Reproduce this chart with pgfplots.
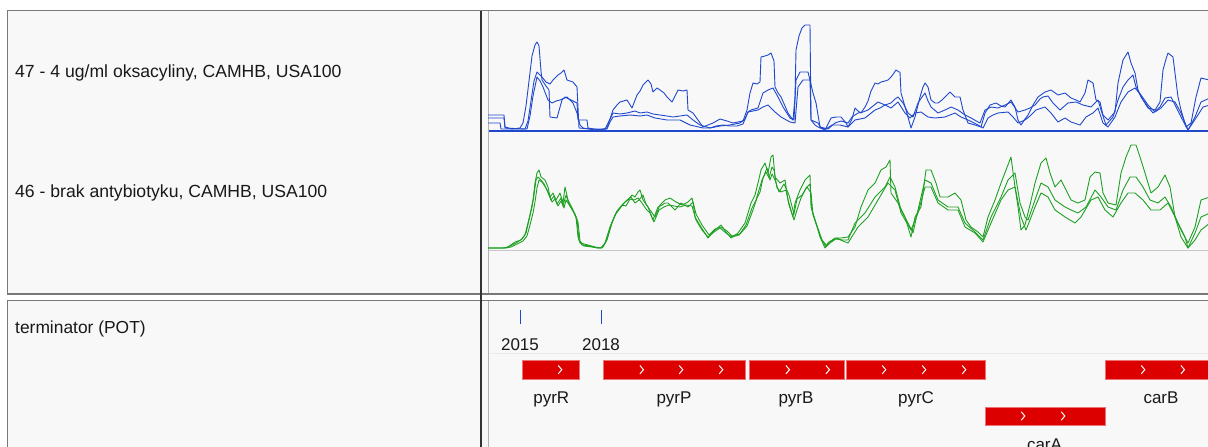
\documentclass[border=0pt]{standalone}
\usepackage{fontspec}
\setmainfont{Liberation Sans}
\usepackage{pgfplots}
\usepackage{pgfplotstable}
\pgfplotsset{compat=1.18}

\definecolor{igvblue}{RGB}{32,72,205}
\definecolor{igvgreen}{RGB}{30,160,35}
\definecolor{genered}{RGB}{221,0,0}
\definecolor{panelbg}{RGB}{248,248,248}
\definecolor{framegray}{RGB}{120,120,120}
\definecolor{txt}{RGB}{25,25,25}

% small white arrow drawn inside gene boxes
\pgfdeclareplotmark{chev}{%
  \pgfpathmoveto{\pgfqpoint{-1.8pt}{4.2pt}}%
  \pgfpathlineto{\pgfqpoint{1.8pt}{0pt}}%
  \pgfpathlineto{\pgfqpoint{-1.8pt}{-4.2pt}}%
  \pgfusepathqstroke}

% coverage, oxacillin replicates (x = screen position, h = height)
\pgfplotstableread{
x h
488 16
504 16
505 4
512 2
520 3
523 8
526 25
529 50
532 75
535 86
537 89
539 85
541 60
542 51
546 45
549 41
550 14
557 13
562 31
565 34
571 31
577 28
578 11
587 11
588 3
600 1
607 3
610 12
613 21
617 26
620 29
627 31
632 23
637 36
640 40
643 46
648 51
651 47
653 39
657 43
660 41
664 38
667 34
672 29
675 35
678 41
683 40
687 41
688 21
693 18
698 11
703 4
708 6
713 8
720 12
727 10
733 8
738 9
743 10
747 21
750 38
753 48
757 47
760 49
761 74
765 75
768 76
771 78
774 70
775 44
778 38
781 34
785 25
788 18
793 11
795 34
796 81
799 95
802 103
805 106
810 106
811 11
815 6
818 4
825 1
831 13
836 14
841 14
846 8
848 4
852 12
855 23
858 20
861 18
865 24
868 30
871 40
875 48
878 47
881 49
885 50
888 51
891 54
894 58
896 61
899 59
900 59
901 38
906 21
911 3
915 14
920 34
923 44
925 48
928 44
931 31
935 28
938 28
942 31
945 34
950 39
955 34
960 34
963 21
968 8
975 6
981 4
985 18
990 26
996 28
1001 25
1005 24
1011 31
1015 24
1018 11
1021 6
1025 12
1028 16
1033 26
1038 34
1045 39
1051 41
1058 36
1065 38
1071 33
1076 31
1080 29
1085 38
1088 51
1093 48
1096 31
1100 29
1103 16
1108 11
1115 19
1118 48
1121 62
1123 71
1128 79
1131 68
1135 58
1138 41
1143 31
1148 23
1155 21
1160 29
1163 61
1166 72
1168 78
1173 74
1175 58
1178 34
1181 21
1186 4
1191 8
1196 34
1201 53
1205 52
1210 51
}\blueA

\pgfplotstableread{
x h
488 13
504 13
505 3
525 2
528 10
531 30
534 50
537 59
542 54
546 49
550 47
553 51
558 56
561 58
564 61
567 51
570 50
573 49
577 44
579 3
590 2
605 2
608 8
613 18
620 17
627 18
635 20
640 18
647 19
653 17
660 16
667 15
673 14
680 15
687 16
693 11
700 6
710 3
720 5
730 6
740 8
745 12
748 19
751 21
758 23
763 38
768 41
773 43
778 34
783 24
790 13
794 11
796 51
800 59
808 59
810 51
813 38
816 28
820 4
828 2
835 8
841 10
848 8
852 14
858 18
863 19
868 21
873 25
878 29
885 26
891 28
895 32
898 34
903 28
908 18
913 14
918 28
922 34
925 38
928 30
931 24
938 18
945 21
951 24
958 21
965 16
971 13
980 8
985 21
991 24
998 23
1005 26
1011 29
1018 19
1025 21
1030 23
1035 26
1040 32
1043 34
1048 35
1053 28
1060 21
1068 28
1076 29
1083 26
1091 24
1098 31
1101 21
1106 6
1113 14
1118 31
1123 44
1128 51
1133 56
1136 44
1141 34
1148 24
1153 18
1160 24
1165 33
1171 34
1176 24
1181 14
1188 1
1195 14
1201 29
1210 33
}\blueB

\pgfplotstableread{
x h
488 8
500 8
501 2
527 2
530 15
533 35
537 54
540 50
543 44
548 31
552 28
556 30
560 31
567 34
573 28
577 18
580 6
583 3
595 1
607 2
610 9
613 14
620 15
630 16
640 15
647 16
655 13
667 11
680 11
690 6
703 3
710 3
716 5
723 6
730 5
737 5
743 7
748 19
758 21
763 24
768 26
775 19
781 14
790 9
795 8
798 44
803 51
810 51
811 11
818 8
821 3
826 2
832 6
840 6
848 4
855 11
865 13
870 17
875 21
880 23
885 26
891 23
898 29
905 18
910 13
915 18
921 19
928 14
935 13
945 14
955 18
961 14
968 11
978 6
983 3
988 13
993 16
998 18
1008 19
1013 14
1018 8
1025 11
1030 15
1036 21
1045 24
1051 18
1058 9
1065 13
1071 9
1080 6
1086 14
1093 18
1098 23
1103 8
1108 4
1115 14
1121 29
1128 39
1135 43
1141 36
1148 26
1155 19
1161 23
1168 31
1175 29
1181 18
1188 1
1196 13
1203 24
1210 26
}\blueC

% coverage, no antibiotic replicates
\pgfplotstableread{
x h
488 2
503 2
508 3
515 8
521 10
525 15
528 27
531 40
533 50
535 67
537 77
539 80
541 73
545 70
548 63
550 53
553 57
556 50
560 57
563 47
565 63
568 50
573 40
576 33
578 13
580 7
588 5
595 3
601 2
605 7
610 23
615 35
621 43
625 48
628 50
632 55
635 53
638 58
640 60
643 50
648 43
653 30
658 43
662 45
665 47
668 47
675 40
681 47
688 43
693 48
695 33
701 23
708 12
715 20
721 25
726 18
731 12
738 17
745 27
751 47
755 55
758 67
761 80
765 87
768 77
771 93
773 95
775 73
780 67
785 70
788 50
793 33
795 47
800 60
805 70
810 75
811 43
815 30
820 13
825 2
828 7
835 12
841 12
848 13
855 23
861 43
868 60
875 67
881 80
886 83
890 90
891 57
898 47
905 33
911 13
915 33
921 43
926 80
931 80
936 67
940 53
948 53
955 57
961 50
966 30
971 23
978 18
983 13
988 33
995 50
1001 67
1006 80
1011 93
1015 63
1018 43
1021 20
1025 25
1030 45
1035 67
1041 87
1046 92
1050 77
1055 63
1061 70
1066 60
1071 50
1078 47
1085 50
1090 73
1095 78
1100 77
1103 57
1108 47
1116 45
1121 77
1126 93
1131 105
1136 105
1140 93
1145 77
1151 57
1158 63
1165 75
1170 63
1175 33
1181 20
1188 7
1195 23
1201 50
1210 53
}\greenA

\pgfplotstableread{
x h
488 2
505 2
510 4
516 7
522 11
526 17
529 30
532 43
534 55
536 70
538 73
541 70
544 66
548 58
551 50
554 54
557 46
561 52
563 44
566 55
569 46
574 37
577 30
579 10
582 5
590 4
597 2
602 2
606 9
611 25
616 37
622 45
626 44
630 51
634 50
638 52
642 47
646 41
650 37
654 28
659 40
664 43
669 45
674 44
680 43
686 45
692 44
696 30
702 20
708 13
714 18
720 22
726 17
732 13
739 15
746 25
752 42
756 50
759 60
762 70
766 78
769 72
772 83
774 80
777 62
781 58
786 60
789 45
794 30
797 40
801 52
806 62
810 66
812 40
816 27
821 12
826 3
829 8
836 11
842 10
848 10
855 27
865 37
875 53
885 63
890 73
895 63
901 40
908 27
913 17
918 40
925 70
931 67
938 50
948 43
958 43
965 27
975 18
983 10
991 33
1001 53
1008 70
1015 77
1020 47
1025 33
1028 30
1035 50
1041 67
1048 63
1055 50
1065 43
1071 40
1078 37
1086 43
1095 60
1101 53
1108 43
1116 40
1123 60
1130 73
1136 73
1143 63
1150 50
1158 47
1165 53
1171 43
1178 27
1185 13
1188 2
1195 17
1201 33
1210 37
}\greenB

\pgfplotstableread{
x h
488 2
506 2
511 3
517 6
523 9
527 14
530 25
533 37
535 48
537 62
539 70
542 68
546 62
549 55
552 48
555 51
558 44
561 49
564 42
566 50
570 44
575 36
578 28
580 9
584 4
592 3
599 2
603 3
607 10
612 27
617 39
623 46
627 50
631 53
635 47
639 50
643 55
646 46
650 40
655 33
660 45
665 50
670 52
676 48
682 45
688 48
692 52
696 36
702 25
709 15
715 21
721 23
727 19
732 14
740 16
747 24
753 40
757 52
760 58
763 72
767 82
770 70
772 76
775 70
779 58
784 66
789 55
794 36
797 51
802 55
807 63
811 57
813 35
817 24
822 10
827 4
830 7
837 12
843 9
848 7
858 23
868 33
878 50
888 67
895 60
901 37
911 20
918 37
925 63
931 63
938 47
948 40
958 40
965 23
975 17
983 8
991 27
1001 50
1008 60
1015 63
1021 33
1026 20
1030 30
1035 43
1041 57
1048 53
1055 40
1065 33
1075 27
1081 33
1091 50
1098 53
1105 40
1113 33
1121 47
1128 57
1135 57
1143 50
1151 40
1160 40
1168 47
1175 33
1181 13
1188 2
1195 10
1201 20
1210 27
}\greenC

\begin{document}
\begin{tikzpicture}
\useasboundingbox (0,0) rectangle (1208pt,447pt);
\clip (0,0) rectangle (1208pt,447pt);
\fill[white] (0,0) rectangle (1208pt,447pt);
\begin{axis}[
  at={(0,0)}, anchor=south west,
  scale only axis, width=1208pt, height=447pt,
  xmin=0, xmax=1208, ymin=0, ymax=447,
  y dir=reverse, hide axis, clip=false,
  cov/.style={color=#1, line width=0.9pt, line join=round},
]
% panel frames
\draw[framegray, line width=1.2pt, fill=panelbg] (axis cs:7.3,10.8) rectangle (axis cs:1215,294);
\draw[framegray, line width=1.2pt, fill=panelbg] (axis cs:7.3,300.2) rectangle (axis cs:1215,460);
\draw[black!80, line width=1.8pt] (axis cs:480.8,10.8) -- (axis cs:480.8,460);
\draw[black!30, line width=0.7pt] (axis cs:488.3,11.4) -- (axis cs:488.3,293.4);
\draw[black!30, line width=0.7pt] (axis cs:488.3,300.8) -- (axis cs:488.3,460);
\draw[black!8, line width=1pt] (axis cs:488.6,353.3) -- (axis cs:1215,353.3);

% track names
\node[anchor=base west, text=txt, font=\fontsize{17.6}{20}\selectfont, inner sep=0pt] at (axis cs:15,77.3) {47 - 4 ug/ml oksacyliny, CAMHB, USA100};
\node[anchor=base west, text=txt, font=\fontsize{17.6}{20}\selectfont, inner sep=0pt] at (axis cs:15,197) {46 - brak antybiotyku, CAMHB, USA100};
\node[anchor=base west, text=txt, font=\fontsize{17.4}{20}\selectfont, inner sep=0pt] at (axis cs:15,333) {terminator (POT)};

% oxacillin track
\addplot[cov=igvblue] table[x=x, y expr=131-\thisrow{h}] {\blueA};
\addplot[cov=igvblue] table[x=x, y expr=131-\thisrow{h}] {\blueB};
\addplot[cov=igvblue] table[x=x, y expr=131-\thisrow{h}] {\blueC};
\addplot[igvblue, line width=1.5pt] coordinates {(488.8,131) (1215,131)};

% no-antibiotic track
\addplot[black!22, line width=1.5pt] coordinates {(488.8,250.3) (1215,250.3)};
\addplot[cov=igvgreen] table[x=x, y expr=250-\thisrow{h}] {\greenA};
\addplot[cov=igvgreen] table[x=x, y expr=250-\thisrow{h}] {\greenB};
\addplot[cov=igvgreen] table[x=x, y expr=250-\thisrow{h}] {\greenC};

% terminator positions
\addplot[igvblue, line width=1.3pt] coordinates {(520.3,310) (520.3,323.5)};
\addplot[igvblue, line width=1.3pt] coordinates {(601.2,310) (601.2,323.5)};
\node[anchor=base, text=txt, font=\fontsize{17}{20}\selectfont, inner sep=0pt] at (axis cs:520,350) {2015};
\node[anchor=base, text=txt, font=\fontsize{17}{20}\selectfont, inner sep=0pt] at (axis cs:601,350) {2018};

% genes
\addplot[fill=genered, draw=genered!55!white, line width=0.6pt] coordinates {(522.3,360.3) (579.3,360.3) (579.3,379) (522.3,379)} -- cycle;
\addplot[fill=genered, draw=genered!55!white, line width=0.6pt] coordinates {(603.3,360.3) (745,360.3) (745,379) (603.3,379)} -- cycle;
\addplot[fill=genered, draw=genered!55!white, line width=0.6pt] coordinates {(749.3,360.3) (844.3,360.3) (844.3,379) (749.3,379)} -- cycle;
\addplot[fill=genered, draw=genered!55!white, line width=0.6pt] coordinates {(846.7,360.3) (985.3,360.3) (985.3,379) (846.7,379)} -- cycle;
\addplot[fill=genered, draw=genered!55!white, line width=0.6pt] coordinates {(985.3,406.8) (1105.3,406.8) (1105.3,425.3) (985.3,425.3)} -- cycle;
\addplot[fill=genered, draw=genered!55!white, line width=0.6pt] coordinates {(1105.3,360.3) (1230,360.3) (1230,379) (1105.3,379)} -- cycle;

\addplot[only marks, mark=chev, draw=white, mark options={line width=1pt, draw=white}] coordinates {
 (560,369.7) (641.7,369.7) (681,369.7) (721,369.7) (787.7,369.7) (827.7,369.7)
 (884,369.7) (924,369.7) (964,369.7) (1143,369.7) (1182.7,369.7)
 (1023,416) (1063,416)};

\node[anchor=base, text=txt, font=\fontsize{17}{20}\selectfont, inner sep=0pt] at (axis cs:551.3,403) {pyrR};
\node[anchor=base, text=txt, font=\fontsize{17}{20}\selectfont, inner sep=0pt] at (axis cs:674,403) {pyrP};
\node[anchor=base, text=txt, font=\fontsize{17}{20}\selectfont, inner sep=0pt] at (axis cs:796,403) {pyrB};
\node[anchor=base, text=txt, font=\fontsize{17}{20}\selectfont, inner sep=0pt] at (axis cs:916,403) {pyrC};
\node[anchor=base, text=txt, font=\fontsize{17}{20}\selectfont, inner sep=0pt] at (axis cs:1161,403) {carB};
\node[anchor=base, text=txt, font=\fontsize{17}{20}\selectfont, inner sep=0pt] at (axis cs:1044.5,450.5) {carA};
\end{axis}
\end{tikzpicture}
\end{document}
